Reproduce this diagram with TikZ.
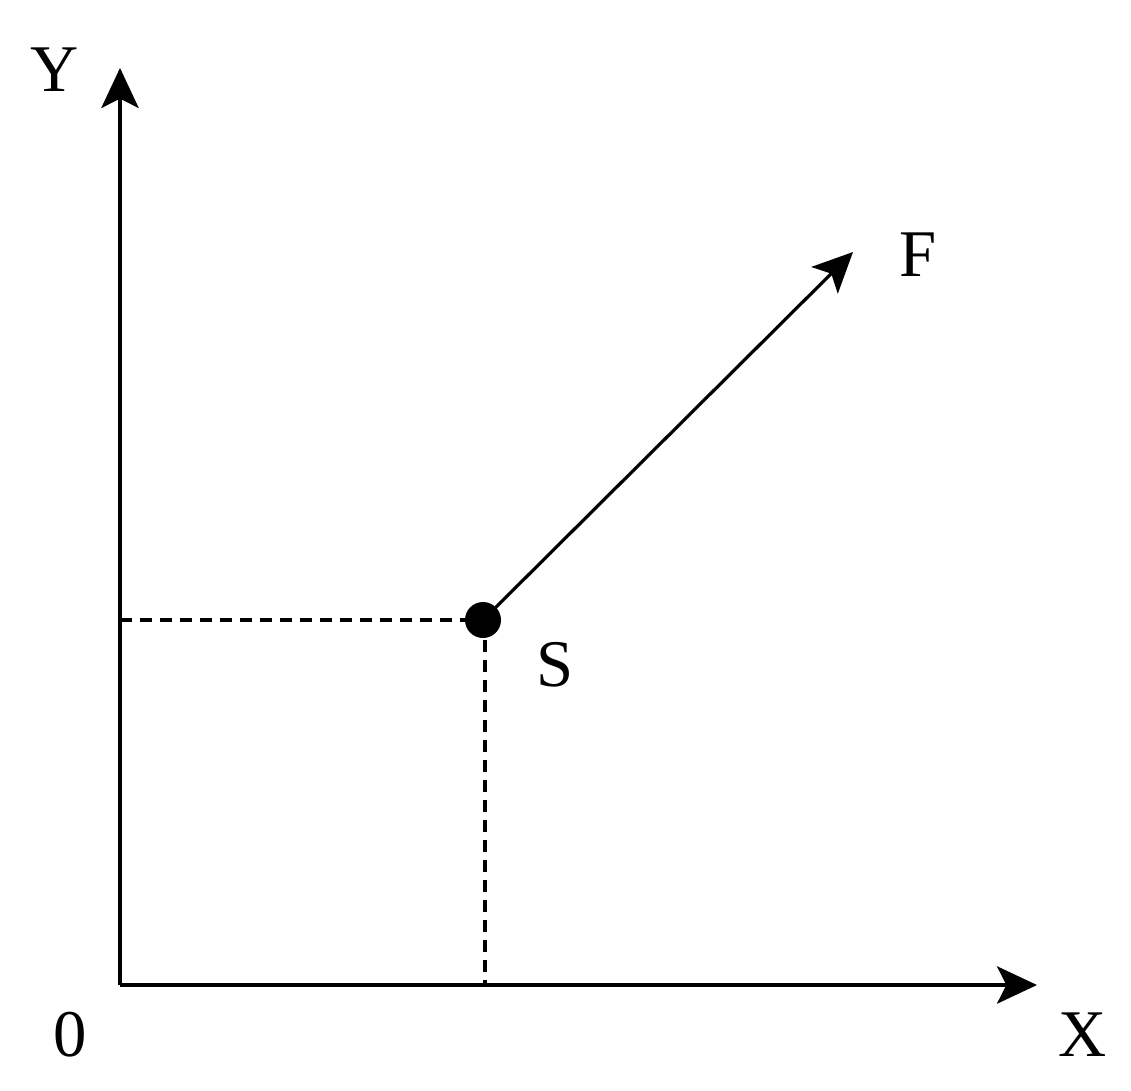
\documentclass[tikz,border=0pt]{standalone}
\usepackage{fontspec}
\setmainfont{Liberation Serif}
\usetikzlibrary{arrows.meta}
\begin{document}
\begin{tikzpicture}[x=0.75pt,y=-0.75pt,
  axis/.style={line width=2.4pt,-{Stealth[length=30pt,width=28pt,inset=7pt]}},
  guide/.style={line width=2.4pt,dash pattern=on 9pt off 6pt},
  lab/.style={font=\fontsize{50}{60}\selectfont,inner sep=0pt}]
\useasboundingbox (0,0) rectangle (1131,1091);
\coordinate (O) at (120,985);
\coordinate (Ytip) at (120,68);
\coordinate (Xtip) at (1037,985);
\coordinate (Ftip) at (853,252);
\node[circle,fill=black,minimum size=27pt,inner sep=0pt] (S) at (483,620) {};
\coordinate (Sy) at (120,620);
\coordinate (Sx) at (485,985);
\coordinate (Sb) at (485,620);
\draw[guide] (Sy) -- (S.center);
\draw[guide] (Sb) -- (Sx);
\draw[axis] (O) -- (Ytip);
\draw[axis] (O) -- (Xtip);
\draw[axis] (S.center) -- (Ftip);
\node[lab] (ylab) at (55,70) {Y};
\node[lab] (xlab) at (1083,1035) {X};
\node[lab] (olab) at (70,1035) {0};
\node[lab] (flab) at (918,255) {F};
\node[lab] (slab) at (555,665) {S};
\end{tikzpicture}
\end{document}
